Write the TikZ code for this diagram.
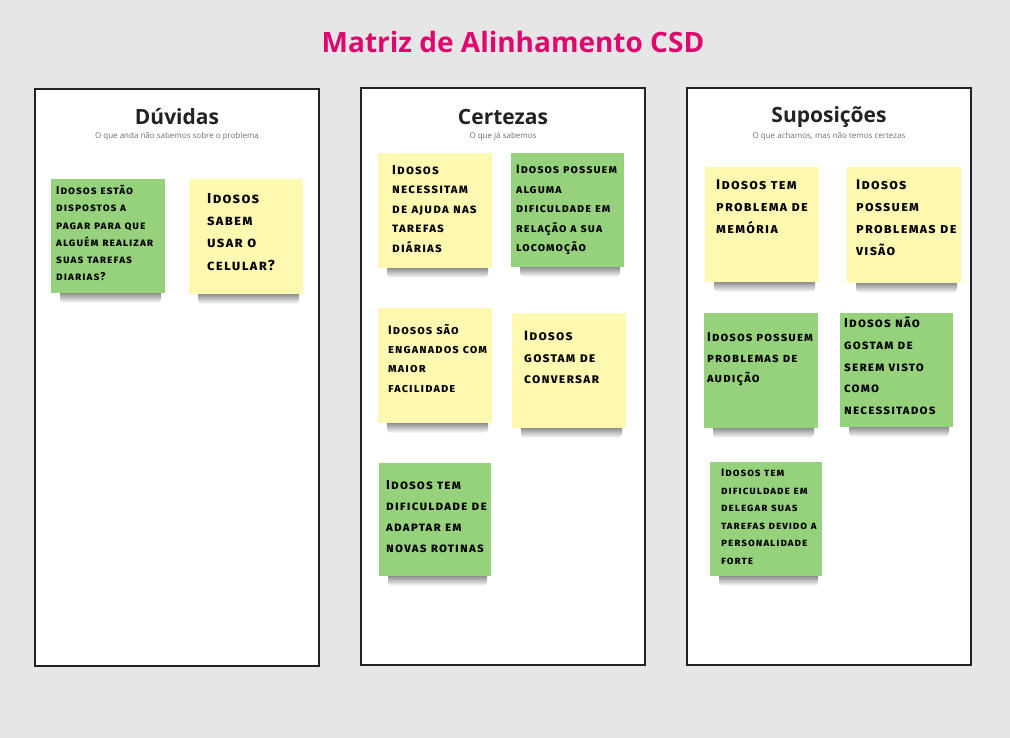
\documentclass[tikz,border=0pt]{standalone}
\usepackage{fontspec}
\setmainfont{Open Sans}
\newfontfamily\marker[Letters=SmallCaps, LetterSpace=9]{Fira Sans Bold}
\usetikzlibrary{calc}
\definecolor{boardbg}{HTML}{E6E6E6}
\definecolor{framecol}{HTML}{222222}
\definecolor{titlepink}{HTML}{E0066E}
\definecolor{subgray}{HTML}{6E6E6E}
\definecolor{noteyellow}{HTML}{FFF8B0}
\definecolor{notegreen}{HTML}{96D17C}
\def\sticky[#1](#2,#3)(#4,#5){%
  \shade[top color=black!70, bottom color=white, rounded corners=4pt] (#2+9,#5-6) rectangle (#4-4,#5+10);
  \fill[#1] (#2,#3) rectangle (#4,#5);}
\def\msize#1#2{\marker\fontsize{#1}{#2}\selectfont}
\tikzset{
  column/.style={draw=framecol, line width=2pt, fill=white},
  heading/.style={font=\bfseries\fontsize{21}{24}\selectfont, text=framecol, inner sep=0pt},
  subheading/.style={font=\fontsize{8}{9}\selectfont, text=subgray, inner sep=0pt},
  notetext/.style={anchor=north west, inner sep=0pt, align=left, text=black}
}
\begin{document}
\begin{tikzpicture}[x=1pt, y=-1pt]
		%%%%% START %%%%%
		
		\fill[boardbg] (0,0) rectangle (1010,738);
		\useasboundingbox (0,0) rectangle (1010,738);
		
		\node[font=\bfseries\fontsize{28}{32}\selectfont, text=titlepink, inner sep=0pt] (title) at (513,42) {Matriz de Alinhamento CSD};
		
		\draw[column] (35,89) rectangle (319,666);
		\draw[column] (361,88) rectangle (645,665);
		\draw[column] (687,88) rectangle (971,665);
		
		\node[heading] (duvidas) at (177,117) {Dúvidas};
		\node[subheading] (duvidassub) at (177,136) {O que anda não sabemos sobre o problema};
		\node[heading] (certezas) at (503,117) {Certezas};
		\node[subheading] (certezassub) at (503,136) {O que já sabemos};
		\node[heading] (suposicoes) at (829,117) {Suposições};
		\node[subheading] (suposicoessub) at (829,136) {O que achamos, mas não temos certezas};
		
		%% duvidas
		\sticky[notegreen](51,179)(165,293)
		\node[notetext, font=\msize{11.3}{17.3}] (duv1) at (56,185) {Idosos estão\\dispostos a\\pagar para que\\alguém realizar\\suas tarefas\\diarias?};
		\sticky[noteyellow](189,179)(303,294)
		\node[notetext, font=\msize{14.5}{22.3}] (duv2) at (207,193) {Idosos\\sabem\\usar o\\celular?};
		
		%% certezas
		\sticky[noteyellow](378,153)(492,268)
		\node[notetext, font=\msize{13}{19.5}] (cer1) at (392,165) {Idosos\\necessitam\\de ajuda nas\\tarefas\\diárias};
		\sticky[notegreen](511,153)(624,267)
		\node[notetext, font=\msize{12}{19.5}] (cer2) at (516,165) {Idosos possuem\\alguma\\dificuldade em\\relação a sua\\locomoção};
		\sticky[noteyellow](378,308)(492,423)
		\node[notetext, font=\msize{12.3}{19.3}] (cer3) at (388,324) {Idosos são\\enganados com\\maior\\facilidade};
		\sticky[noteyellow](512,313)(626,428)
		\node[notetext, font=\msize{13.5}{21.5}] (cer4) at (524,331) {Idosos\\gostam de\\conversar};
		\sticky[notegreen](379,463)(491,576)
		\node[notetext, font=\msize{13}{21}] (cer5) at (386,480) {Idosos tem\\dificuldade de\\adaptar em\\novas rotinas};
		
		%% suposicoes
		\sticky[noteyellow](705,167)(819,282)
		\node[notetext, font=\msize{14}{22}] (sup1) at (716,180) {Idosos tem\\problema de\\memória};
		\sticky[noteyellow](847,167)(961,283)
		\node[notetext, font=\msize{14}{22}] (sup2) at (856,180) {Idosos\\possuem\\problemas de\\visão};
		\sticky[notegreen](704,313)(818,428)
		\node[notetext, font=\msize{12.6}{20.5}] (sup3) at (707,333) {Idosos possuem\\problemas de\\audição};
		\sticky[notegreen](840,313)(953,427)
		\node[notetext, font=\msize{13}{21.7}] (sup4) at (844,317) {Idosos não\\gostam de\\serem visto\\como\\necessitados};
		\sticky[notegreen](710,462)(822,576)
		\node[notetext, font=\msize{11}{17.5}] (sup5) at (721,469) {Idosos tem\\dificuldade em\\delegar suas\\tarefas devido a\\personalidade\\forte};
		
		%%%%% END %%%%%
\end{tikzpicture}
\end{document}
